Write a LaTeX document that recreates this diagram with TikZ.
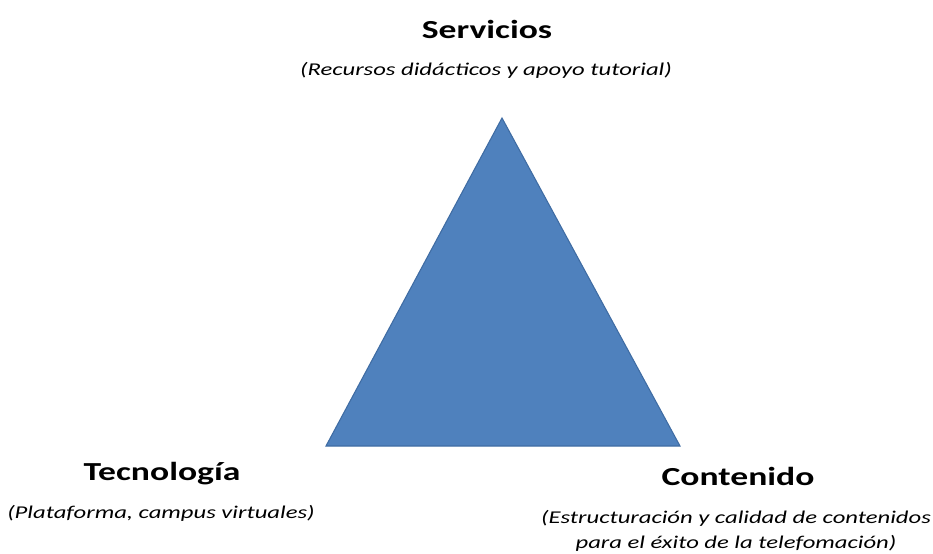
\documentclass[tikz,border=0pt]{standalone}
\usepackage{fontspec}
\setmainfont{Carlito}[FakeStretch=1.37]
\usetikzlibrary{positioning}

\definecolor{triblue}{HTML}{4F81BD}
\definecolor{triedge}{HTML}{3F6CA3}

\begin{document}
\begin{tikzpicture}[x=0.75pt, y=-0.75pt,
  every node/.style={inner sep=0pt, anchor=base},
  title/.style={font=\fontsize{19.5}{23}\selectfont\bfseries},
  note/.style={font=\fontsize{13.5}{18.75}\selectfont\itshape, align=center}]

  \useasboundingbox (0,0) rectangle (933,554);

  % Triangle
  \coordinate (top) at (502,118);
  \coordinate (left) at (326,446);
  \coordinate (right) at (680,446);
  \draw[fill=triblue, draw=triedge, line width=0.8pt] (top) -- (left) -- (right) -- cycle;

  % Labels
  \node[title] (servicios) at (487,38) {Servicios};
  \node[note] (recursos) at (486,75) {(Recursos didácticos y apoyo tutorial)};

  \node[title] (tecnologia) at (162,480) {Tecnología};
  \node[note] (plataforma) at (161,518) {(Plataforma, campus virtuales)};

  \node[title] (contenido) at (738,485) {Contenido};
  % base anchor sits on the last line here
  \node[note] (estructura) at (736,548) {(Estructuración y calidad de contenidos\\para el éxito de la telefomación)};

\end{tikzpicture}
\end{document}
